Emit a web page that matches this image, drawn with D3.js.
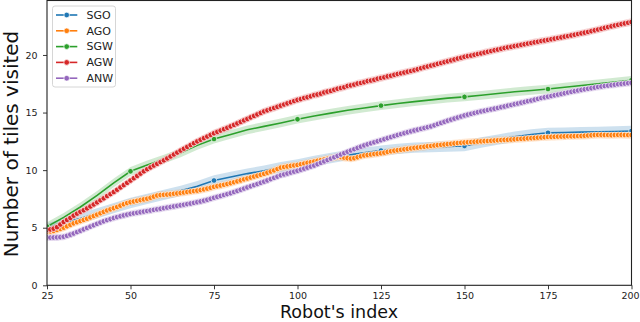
<!DOCTYPE html>
<html>
<head>
<meta charset="utf-8">
<script src="https://cdn.jsdelivr.net/npm/d3@7"></script>
<style>
  body { margin: 0; background: #fff; }
  svg { display: block; font-family: 'DejaVu Sans', sans-serif; }
</style>
</head>
<body>
<div id="chart"></div>
<script>
const xTicks = [25, 50, 75, 100, 125, 150, 175, 200];
const yTicks = [0, 5, 10, 15, 20];
const seriesNames = ['SGO', 'AGO', 'SGW', 'AGW', 'ANW'];

// SGO and SGW were read every 5 robots
const sparseIndex = [25, 30, 35, 40, 45, 50, 55, 60, 65, 70, 75, 80, 85, 90, 95, 100, 105, 110,
  115, 120, 125, 130, 135, 140, 145, 150, 155, 160, 165, 170, 175, 180, 185, 190, 195, 200];
const sgo = [4.90, 5.40, 5.80, 6.25, 6.70, 7.15, 7.50, 7.85, 8.20, 8.60, 9.10, 9.40, 9.70, 9.95,
  10.25, 10.50, 10.80, 11.05, 11.30, 11.50, 11.70, 11.85, 11.95, 12.00, 12.05, 12.10, 12.40,
  12.65, 12.90, 13.10, 13.24, 13.26, 13.30, 13.32, 13.36, 13.40];
const sgw = [5.10, 5.90, 6.80, 7.80, 8.90, 9.90, 10.45, 10.95, 11.50, 12.15, 12.70, 13.10, 13.50,
  13.80, 14.10, 14.42, 14.70, 14.95, 15.20, 15.40, 15.60, 15.78, 15.95, 16.10, 16.25, 16.36,
  16.50, 16.65, 16.80, 16.92, 17.04, 17.20, 17.35, 17.50, 17.65, 17.80];

// AGO, AGW, ANW have one reading per robot index, 25 .. 200
const denseIndex = d3.range(25, 201);
const ago = [
  4.65, 4.68, 4.72, 4.80, 4.90, 5.00, 5.12, 5.25, 5.38, 5.48, 5.58, 5.68, 5.78, 5.90, 6.02, 6.14, 6.26, 6.38, 6.50, 6.60, 6.70, 6.80, 6.92, 7.04, 7.14,
  7.22, 7.28, 7.34, 7.40, 7.46, 7.52, 7.60, 7.70, 7.80, 7.84, 7.86, 7.88, 7.91, 7.95, 7.98, 8.02, 8.06, 8.10, 8.14, 8.18, 8.22, 8.27, 8.33, 8.40, 8.47,
  8.55, 8.61, 8.67, 8.73, 8.80, 8.87, 8.95, 9.03, 9.11, 9.20, 9.28, 9.36, 9.44, 9.52, 9.60, 9.68, 9.78, 9.88, 9.98, 10.10, 10.22, 10.27, 10.32, 10.37, 10.41,
  10.45, 10.51, 10.57, 10.63, 10.69, 10.75, 10.81, 10.87, 10.93, 10.99, 11.05, 11.10, 11.15, 11.13, 11.08, 11.04, 11.00, 11.04, 11.12, 11.20, 11.28, 11.32, 11.36, 11.40, 11.43,
  11.46, 11.52, 11.58, 11.64, 11.69, 11.73, 11.77, 11.81, 11.85, 11.89, 11.93, 11.96, 12.00, 12.03, 12.07, 12.10, 12.14, 12.17, 12.20, 12.23, 12.26, 12.29, 12.32, 12.35, 12.38,
  12.40, 12.42, 12.44, 12.46, 12.48, 12.50, 12.52, 12.53, 12.55, 12.57, 12.59, 12.61, 12.63, 12.64, 12.66, 12.68, 12.70, 12.72, 12.74, 12.76, 12.78, 12.80, 12.82, 12.84, 12.86,
  12.88, 12.89, 12.90, 12.91, 12.92, 12.93, 12.94, 12.94, 12.95, 12.96, 12.97, 12.99, 13.01, 13.03, 13.05, 13.06, 13.06, 13.05, 13.05, 13.04, 13.05, 13.06, 13.06, 13.05, 13.05,
  13.05
];
const agw = [
  4.80, 4.85, 4.92, 5.05, 5.28, 5.50, 5.68, 5.85, 6.05, 6.22, 6.38, 6.52, 6.68, 6.85, 7.02, 7.20, 7.38, 7.55, 7.75, 7.92, 8.10, 8.30, 8.50, 8.70, 8.90,
  9.10, 9.30, 9.50, 9.70, 9.90, 10.08, 10.24, 10.40, 10.55, 10.70, 10.85, 11.02, 11.19, 11.36, 11.53, 11.70, 11.86, 12.02, 12.18, 12.34, 12.50, 12.64, 12.78, 12.92, 13.06,
  13.20, 13.32, 13.44, 13.56, 13.68, 13.80, 13.93, 14.06, 14.19, 14.32, 14.45, 14.58, 14.71, 14.84, 14.97, 15.10, 15.20, 15.30, 15.40, 15.50, 15.60, 15.70, 15.80, 15.90, 16.00,
  16.10, 16.17, 16.27, 16.33, 16.41, 16.51, 16.57, 16.64, 16.75, 16.82, 16.88, 16.98, 17.07, 17.13, 17.20, 17.31, 17.36, 17.43, 17.52, 17.57, 17.64, 17.73, 17.78, 17.85, 17.94,
  18.00, 18.06, 18.14, 18.20, 18.28, 18.35, 18.41, 18.48, 18.55, 18.61, 18.68, 18.76, 18.85, 18.93, 19.00, 19.08, 19.15, 19.23, 19.30, 19.38, 19.45, 19.53, 19.61, 19.69, 19.76,
  19.84, 19.90, 19.95, 20.02, 20.08, 20.14, 20.21, 20.28, 20.34, 20.41, 20.47, 20.54, 20.60, 20.66, 20.71, 20.77, 20.82, 20.88, 20.93, 20.99, 21.04, 21.10, 21.15, 21.21, 21.26,
  21.31, 21.37, 21.42, 21.48, 21.53, 21.59, 21.64, 21.70, 21.76, 21.82, 21.88, 21.94, 22.00, 22.07, 22.14, 22.21, 22.28, 22.35, 22.42, 22.49, 22.56, 22.62, 22.68, 22.74, 22.80,
  22.86
];
const anw = [
  4.15, 4.14, 4.15, 4.16, 4.18, 4.22, 4.30, 4.40, 4.50, 4.62, 4.74, 4.86, 4.98, 5.10, 5.22, 5.34, 5.45, 5.56, 5.66, 5.75, 5.84, 5.92, 6.00, 6.07, 6.14,
  6.20, 6.25, 6.30, 6.35, 6.40, 6.45, 6.50, 6.55, 6.60, 6.65, 6.70, 6.75, 6.80, 6.85, 6.90, 6.95, 7.00, 7.05, 7.10, 7.16, 7.22, 7.28, 7.35, 7.43, 7.51,
  7.60, 7.68, 7.76, 7.84, 7.92, 8.00, 8.10, 8.20, 8.30, 8.40, 8.50, 8.60, 8.70, 8.80, 8.90, 9.00, 9.11, 9.22, 9.33, 9.44, 9.55, 9.63, 9.71, 9.79, 9.87,
  9.95, 10.04, 10.13, 10.22, 10.31, 10.40, 10.52, 10.64, 10.76, 10.88, 11.00, 11.12, 11.24, 11.36, 11.48, 11.60, 11.71, 11.82, 11.93, 12.04, 12.15, 12.24, 12.33, 12.42, 12.51,
  12.60, 12.69, 12.78, 12.87, 12.96, 13.05, 13.13, 13.21, 13.29, 13.37, 13.45, 13.52, 13.59, 13.66, 13.73, 13.80, 13.90, 14.00, 14.10, 14.20, 14.30, 14.39, 14.48, 14.57, 14.66,
  14.75, 14.82, 14.89, 14.96, 15.03, 15.10, 15.16, 15.22, 15.28, 15.34, 15.40, 15.47, 15.53, 15.60, 15.66, 15.73, 15.79, 15.86, 15.92, 15.99, 16.05, 16.12, 16.19, 16.26, 16.32,
  16.38, 16.44, 16.50, 16.56, 16.62, 16.68, 16.74, 16.80, 16.86, 16.92, 16.97, 17.02, 17.07, 17.12, 17.17, 17.22, 17.26, 17.30, 17.34, 17.38, 17.42, 17.46, 17.49, 17.52, 17.55,
  17.58
];
// half width of the shaded interval, per series (SGO, AGO, SGW, AGW, ANW)
const bandHalfWidth = [0.45, 0.32, 0.38, 0.32, 0.3];


const width = 640,
      height = 322;
const colors = ['#1f77b4', '#ff7f0e', '#2ca02c', '#d62728', '#9467bd'];

const x = d3.scaleLinear()
      .domain([25, 200])
      .range([47, 631.5]);
const y = d3.scaleLinear()
      .domain([0, 24.73])
      .range([285.3, 0.5]);

const series = [
  { xs: sparseIndex, ys: sgo, markEvery: 25 },
  { xs: denseIndex, ys: ago, markEvery: 1 },
  { xs: sparseIndex, ys: sgw, markEvery: 25 },
  { xs: denseIndex, ys: agw, markEvery: 1 },
  { xs: denseIndex, ys: anw, markEvery: 1 }
].map((s, i) => ({
  name: seriesNames[i],
  color: colors[i],
  spread: bandHalfWidth[i],
  markEvery: s.markEvery,
  points: s.xs.map((xv, j) => ({ x: xv, v: s.ys[j] }))
}));

const svg = d3.select('#chart').append('svg')
      .attr('width', width)
      .attr('height', height);

svg.append('clipPath').attr('id', 'plot-clip')
  .append('rect')
  .attr('x', x.range()[0])
  .attr('y', y.range()[1])
  .attr('width', x.range()[1] - x.range()[0])
  .attr('height', y.range()[0] - y.range()[1]);

const plot = svg.append('g').attr('clip-path', 'url(#plot-clip)');

// bands sit under every line, like matplotlib's fill_between
series.forEach(s => {
  const area = d3.area()
        .x(d => x(d.x))
        .y0(d => y(d.v - s.spread))
        .y1(d => y(d.v + s.spread));
  plot.append('path')
    .datum(s.points)
    .attr('d', area)
    .attr('fill', s.color)
    .attr('fill-opacity', 0.22)
    .attr('stroke', 'none');
});

const line = d3.line()
      .x(d => x(d.x))
      .y(d => y(d.v));

series.forEach(s => {
  const g = plot.append('g').attr('class', 'series');
  g.append('path')
    .datum(s.points)
    .attr('d', line)
    .attr('fill', 'none')
    .attr('stroke', s.color)
    .attr('stroke-width', 1.6);
  g.selectAll('circle')
    .data(s.points.filter(d => (d.x - 25) % s.markEvery === 0))
    .enter()
    .append('circle')
    .attr('cx', d => x(d.x))
    .attr('cy', d => y(d.v))
    .attr('r', 2.8)
    .attr('fill', s.color)
    .attr('stroke', '#fff')
    .attr('stroke-width', 0.7);
});

// axes
const xAxis = svg.append('g')
      .attr('transform', `translate(0, ${y.range()[0]})`)
      .call(d3.axisBottom(x).tickValues(xTicks).tickSize(4).tickPadding(3));
const yAxis = svg.append('g')
      .attr('transform', `translate(${x.range()[0]}, 0)`)
      .call(d3.axisLeft(y).tickValues(yTicks).tickSize(4).tickPadding(5.5));

[xAxis, yAxis].forEach(ax => {
  ax.select('.domain').remove();
  ax.selectAll('.tick line').attr('stroke', '#222').attr('stroke-width', 0.9);
  ax.selectAll('.tick text')
    .attr('fill', '#222')
    .style('font-size', '9.5px')
    .style('font-family', "'DejaVu Sans', sans-serif");
});
// last x label hugs the right edge of the window
xAxis.selectAll('.tick text').filter(d => d === 200).attr('dx', '-1.5');

svg.append('rect')
  .attr('x', x.range()[0])
  .attr('y', y.range()[1])
  .attr('width', x.range()[1] - x.range()[0])
  .attr('height', y.range()[0] - y.range()[1])
  .attr('fill', 'none')
  .attr('stroke', '#222')
  .attr('stroke-width', 1.1);

svg.append('text')
  .attr('transform', 'translate(18, 144) rotate(-90)')
  .attr('text-anchor', 'middle')
  .style('font-size', '20px')
  .attr('fill', '#111')
  .text('Number of tiles visited');

svg.append('text')
  .attr('x', 339)
  .attr('y', 317.8)
  .attr('text-anchor', 'middle')
  .style('font-size', '17.5px')
  .attr('fill', '#111')
  .text("Robot's index");

// legend
const legend = svg.append('g').attr('transform', 'translate(52.5, 6)');
legend.append('rect')
  .attr('width', 63)
  .attr('height', 81)
  .attr('rx', 2.5)
  .attr('fill', '#fff')
  .attr('fill-opacity', 0.85)
  .attr('stroke', '#ccc')
  .attr('stroke-width', 0.8);

const items = legend.selectAll('.item')
      .data(series)
      .enter()
      .append('g')
      .attr('class', 'item')
      .attr('transform', (d, i) => `translate(0, ${9 + i * 15.8})`);
items.append('line')
  .attr('x1', 3.5)
  .attr('x2', 24.8)
  .attr('stroke', d => d.color)
  .attr('stroke-width', 1.6);
items.append('circle')
  .attr('cx', 14.2)
  .attr('r', 2.8)
  .attr('fill', d => d.color)
  .attr('stroke', '#fff')
  .attr('stroke-width', 0.7);
items.append('text')
  .attr('x', 34)
  .attr('dy', '0.35em')
  .style('font-size', '11px')
  .attr('fill', '#222')
  .text(d => d.name);
</script>
</body>
</html>
